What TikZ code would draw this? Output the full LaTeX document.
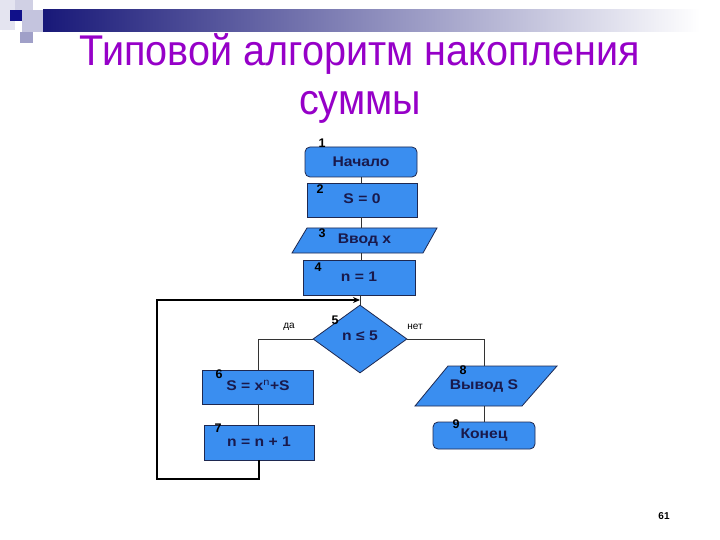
\documentclass[tikz,border=0pt]{standalone}
\usepackage{fontspec}
\setmainfont{Liberation Sans}
\usetikzlibrary{shapes.geometric,arrows.meta,calc}
\definecolor{boxblue}{RGB}{58,142,240}
\definecolor{boxline}{RGB}{30,40,80}
\definecolor{boxtext}{RGB}{25,25,75}
\definecolor{titlepurple}{RGB}{150,0,200}
\definecolor{navybar}{RGB}{24,24,120}
\definecolor{decoA}{RGB}{228,228,240}
\definecolor{decoB}{RGB}{208,208,228}
\definecolor{decoC}{RGB}{196,196,222}
\definecolor{decoD}{RGB}{16,16,138}
\definecolor{decoE}{RGB}{160,160,200}
\newcommand\myhs[1]{\scalebox{1.12}[1]{#1}}
\begin{document}
\begin{tikzpicture}[x=1pt,y=-1pt,
  blk/.style={draw=boxline, fill=boxblue, line width=0.8pt, inner sep=0pt,
    font=\fontsize{14}{16}\selectfont\bfseries, text=boxtext},
  procbox/.style={blk, rectangle},
  termbox/.style={blk, rectangle, rounded corners=5pt},
  decbox/.style={blk, diamond},
  iotext/.style={inner sep=0pt, font=\fontsize{14}{16}\selectfont\bfseries, text=boxtext},
  iobox/.style={draw=boxline, fill=boxblue, line width=0.8pt},
  num/.style={font=\fontsize{12.5}{12.5}\selectfont\bfseries, inner sep=0pt},
  lbl/.style={font=\fontsize{10}{10}\selectfont, inner sep=0pt},
  titletext/.style={font=\fontsize{43}{43}\selectfont, text=titlepurple, inner sep=0pt},
  conn/.style={draw=black!80, line width=0.8pt},
  loopline/.style={draw=black, line width=1.6pt},
]
\useasboundingbox (0,0) rectangle (720,540);
\fill[white] (0,0) rectangle (720,540);
% decoration
\fill[decoA] (0,0) rectangle (15,30);
\fill[decoB] (15,0) rectangle (33,10);
\fill[decoC] (22,10) rectangle (43,32);
\fill[decoD] (10,10) rectangle (22,21);
\fill[decoE] (20,32) rectangle (33,43);
\shade[left color=navybar, right color=white] (43,10) rectangle (700,32);
% title
\node[titletext] (t1) at (360,54) {\scalebox{0.92}[1]{Типовой алгоритм накопления}};
\node[titletext] (t2) at (360,107) {\scalebox{0.92}[1]{суммы}};
% blocks
\node[termbox, minimum width=112pt, minimum height=30pt] (n1) at (361,162) {\myhs{Начало}};
\node[procbox, minimum width=110pt, minimum height=34pt] (n2) at (362,200) {\raisebox{2pt}{\myhs{S = 0}}};
\draw[iobox] (292,253) -- (423,253) -- (437,228) -- (307,228) -- cycle;
\node[iotext, minimum width=145pt, minimum height=25pt] (n3) at (364.5,240.5) {\raisebox{-3pt}{\myhs{Ввод x}}};
\node[procbox, minimum width=112pt, minimum height=35pt] (n4) at (359,277.5) {\raisebox{2.5pt}{\myhs{n = 1}}};
\node[decbox, minimum width=94pt, minimum height=68pt] (d) at (360,339) {\raisebox{7pt}{\myhs{n ≤ 5}}};
\node[procbox, minimum width=111pt, minimum height=34pt] (n6) at (258,387) {\raisebox{3pt}{\myhs{S = x\textsuperscript{\mdseries n}+S}}};
\node[procbox, minimum width=110pt, minimum height=35pt] (n7) at (259,442.5) {\raisebox{2pt}{\myhs{n = n + 1}}};
\draw[iobox] (415,406) -- (522,406) -- (557,366) -- (448,366) -- cycle;
\node[iotext, minimum width=142pt, minimum height=40pt] (n8) at (484,386) {\myhs{Вывод S}};
\node[termbox, minimum width=102pt, minimum height=27pt] (n9) at (484,435.5) {\raisebox{-1.5pt}{\myhs{Конец}}};
% numbers
\node[num] (k1) at (322,143) {1};
\node[num] (k2) at (320,189) {2};
\node[num] (k3) at (322,233) {3};
\node[num] (k4) at (318,267) {4};
\node[num] (k5) at (335,320) {5};
\node[num] (k6) at (219,374) {6};
\node[num] (k7) at (218,428) {7};
\node[num] (k8) at (463,370) {8};
\node[num] (k9) at (456,424) {9};
% labels
\node[lbl] (yes) at (289,327) {да};
\node[lbl] (no) at (415,327) {нет};
\node[font=\fontsize{10}{10}\selectfont\bfseries, inner sep=0pt] (pg) at (664,516) {61};
% connectors
\draw[conn] (n1.south) -- (n1.south |- n2.north);
\draw[conn] (n1.south |- n2.south) -- (n1.south |- n3.north);
\draw[conn] (n1.south |- n3.south) -- (n1.south |- n4.north);
\draw[conn] (d.north |- n4.south) -- (d.north);
\coordinate (loopc) at (157,479);
\coordinate (merge) at (360,300);
\draw[loopline, -{Stealth[length=7pt,width=6pt]}] (n7.south) |- (loopc) |- (merge);
\draw[conn] (d.west) -| (n6.north);
\draw[conn] (n6.south) -- (n6.south |- n7.north);
\draw[conn] (d.east) -| (n8.north);
\draw[conn] (n8.south) -- (n8.south |- n9.north);
\end{tikzpicture}
\end{document}
